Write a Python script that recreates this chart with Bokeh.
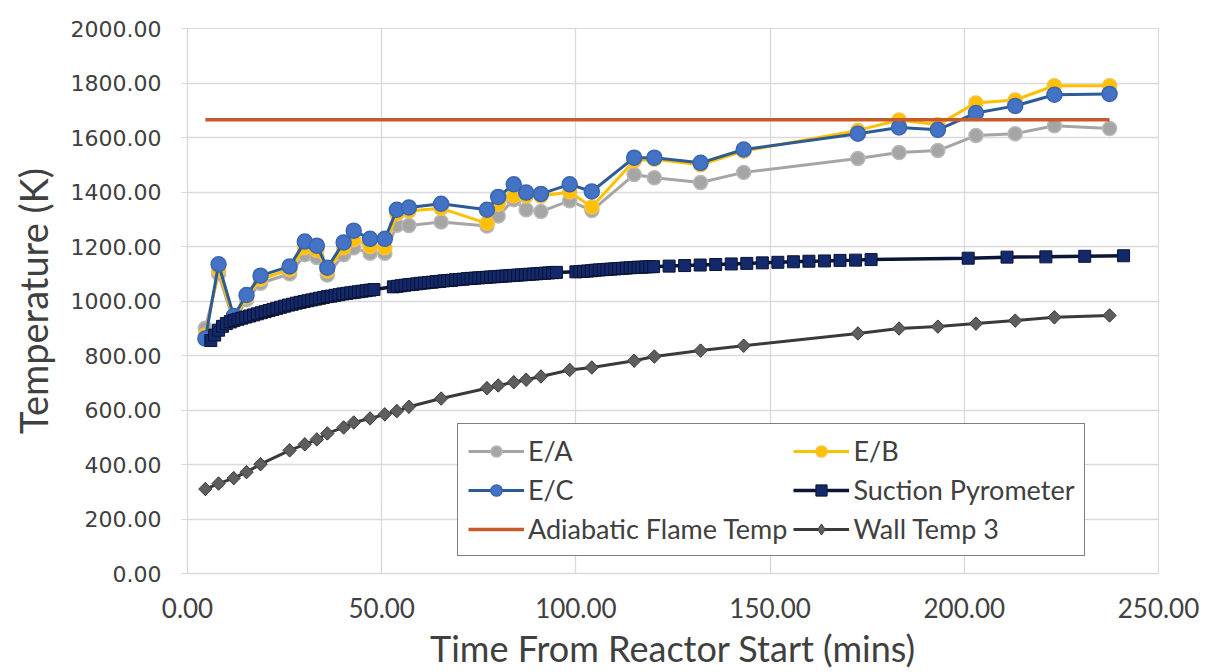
import math
from bokeh.plotting import figure
from bokeh.models import Legend, LegendItem, PrintfTickFormatter, FixedTicker, Range1d
from bokeh.embed import file_html
from bokeh.resources import INLINE

# ---- data ----
probe_t = [4.6, 8.0, 11.9, 15.2, 18.8, 26.3, 30.2, 33.3, 36.0, 40.2, 42.8, 47.0, 50.8,
           53.9, 57.0, 65.3, 77.1, 80.0, 84.0, 87.2, 91.0, 98.4, 104.1, 115.0, 120.2,
           132.1, 143.2, 172.6, 183.2, 193.2, 203.0, 213.1, 223.2, 237.4]
ea = [900, 1100, 925, 1005, 1065, 1100, 1170, 1160, 1095, 1170, 1195, 1175, 1175,
      1278, 1277, 1290, 1275, 1312, 1372, 1335, 1328, 1368, 1332, 1464, 1452,
      1435, 1472, 1523, 1545, 1552, 1607, 1614, 1643, 1633]
eb = [875, 1115, 935, 1015, 1080, 1115, 1195, 1185, 1110, 1195, 1225, 1200, 1195,
      1320, 1330, 1340, 1285, 1355, 1385, 1385, 1385, 1400, 1345, 1515, 1520,
      1500, 1550, 1626, 1664, 1647, 1727, 1738, 1790, 1790]
ec = [862, 1135, 945, 1022, 1093, 1127, 1218, 1203, 1122, 1215, 1258, 1228, 1228,
      1335, 1343, 1357, 1335, 1382, 1428, 1398, 1393, 1428, 1402, 1526, 1526,
      1507, 1556, 1614, 1637, 1628, 1690, 1716, 1757, 1760]
wall = [310, 330, 350, 372, 401, 452, 474, 492, 514, 536, 554, 569, 584,
        596, 612, 642, 680, 690, 702, 711, 723, 747, 756, 781, 796,
        818, 836, 881, 899, 906, 917, 928, 940, 947]

suction_t = [6, 7, 8, 9, 10, 11, 12, 13, 14, 15, 16, 17, 18, 19, 20, 21, 22, 23, 24, 25,
             26, 27, 28, 29, 30, 31, 32, 33, 34, 35, 36, 37, 38, 39, 40, 41, 42, 43, 44,
             45, 46, 47, 48,
             53, 54, 55, 56, 57, 58, 59, 60, 61, 62, 63, 64, 65, 66, 67, 68, 69, 70, 71,
             72, 73, 74, 75, 76, 77, 78, 79, 80, 81, 82, 83, 84, 85, 86, 87, 88, 89, 90,
             91, 92, 93, 94, 95,
             100, 101, 102, 103, 104, 105, 106, 107, 108, 109, 110, 111, 112, 113, 114,
             115, 116, 117, 118, 119, 120,
             124, 128, 132, 136, 140, 144, 148, 152, 156, 160, 164, 168, 172, 176,
             201, 211, 221, 231, 241]
suction = [855, 875, 893, 907, 917, 924, 929, 933, 937, 941, 945, 949, 953, 957, 961, 965,
           969, 973, 977, 981, 985, 988, 992, 995, 998, 1001, 1004, 1007, 1010, 1013, 1016,
           1018, 1021, 1023, 1026, 1028, 1030, 1032, 1034, 1036, 1038, 1040, 1042,
           1052, 1054, 1056, 1058, 1060, 1061, 1063, 1065, 1066, 1068, 1069, 1071, 1072,
           1074, 1075, 1076, 1078, 1079, 1080, 1082, 1083, 1084, 1085, 1086, 1087, 1088,
           1089, 1090, 1091, 1092, 1093, 1094, 1095, 1096, 1097, 1098, 1099, 1100, 1101,
           1102, 1103, 1104, 1105,
           1107, 1108, 1109, 1110, 1111, 1113, 1114, 1115, 1116, 1117, 1118, 1119, 1120,
           1121, 1122, 1123, 1124, 1124, 1125, 1126, 1126,
           1128, 1130, 1132, 1134, 1136, 1138, 1140, 1142, 1144, 1146, 1147, 1149, 1150,
           1152,
           1157, 1161, 1162, 1164, 1166]

flame_t = [4.6, 237.4]
flame = [1665, 1665]

x_ticks = [0, 50, 100, 150, 200, 250]
y_ticks = [0, 200, 400, 600, 800, 1000, 1200, 1400, 1600, 1800, 2000]

# ---- figure ----
p = figure(width=1200, height=672, output_backend="svg", toolbar_location=None,
           x_range=Range1d(0, 250), y_range=Range1d(0, 2000),
           min_border_left=187, min_border_right=42, min_border_top=28,
           min_border_bottom=99, background_fill_color="white",
           border_fill_color="white")
p.outline_line_color = "#D9D9D9"

GRID = "#D9D9D9"
TXT = "#404040"

p.xaxis.ticker = FixedTicker(ticks=x_ticks)
p.yaxis.ticker = FixedTicker(ticks=y_ticks)
p.xaxis.formatter = PrintfTickFormatter(format="%.2f")
p.yaxis.formatter = PrintfTickFormatter(format="%.2f")
p.xgrid.grid_line_color = GRID
p.ygrid.grid_line_color = GRID
p.xgrid.grid_line_width = 1.3
p.ygrid.grid_line_width = 1.3

for ax in (p.xaxis, p.yaxis):
    ax.axis_line_color = GRID
    ax.axis_line_width = 1.3
    ax.minor_tick_line_color = None
    ax.major_tick_line_color = GRID
    ax.major_label_text_color = TXT
    ax.axis_label_text_color = TXT
    ax.axis_label_text_font_style = "normal"

p.xaxis.major_tick_out = 0
p.xaxis.major_tick_in = 0
p.yaxis.major_tick_out = 6
p.yaxis.major_tick_in = 0

p.xaxis.major_label_text_font = "Lato"
p.xaxis.major_label_text_font_size = "26px"
p.xaxis.major_label_standoff = 24
p.yaxis.major_label_text_font = "DejaVu Sans"
p.yaxis.major_label_text_font_size = "22px"
p.yaxis.major_label_standoff = 20

p.xaxis.axis_label = "Time From Reactor Start (mins)"
p.xaxis.axis_label_text_font = "Lato"
p.xaxis.axis_label_text_font_size = "36px"
p.xaxis.axis_label_standoff = 5
p.yaxis.axis_label = "Temperature (K)"
p.yaxis.axis_label_text_font = "Lato"
p.yaxis.axis_label_text_font_size = "38px"
p.yaxis.axis_label_standoff = 12

# ---- series ----
l_ea = p.line(probe_t, ea, line_color="#A5A5A5", line_width=3)
m_ea = p.scatter(probe_t, ea, marker="circle", size=14, fill_color="#A5A5A5",
                 line_color="#B8B8B8", line_width=1.5)
l_eb = p.line(probe_t, eb, line_color="#FFC000", line_width=3)
m_eb = p.scatter(probe_t, eb, marker="circle", size=14, fill_color="#FFC000",
                 line_color="#F5C242", line_width=1.5)
l_ec = p.line(probe_t, ec, line_color="#2D5B96", line_width=3)
m_ec = p.scatter(probe_t, ec, marker="circle", size=15, fill_color="#4472C4",
                 line_color="#3A66B0", line_width=1.5)
l_su = p.line(suction_t, suction, line_color="#0B1636", line_width=3.5)
m_su = p.scatter(suction_t, suction, marker="square", size=12, fill_color="#14296B",
                 line_color="#0A1433", line_width=1)
l_fl = p.line(flame_t, flame, line_color="#C55A2B", line_width=3.5)
l_wa = p.line(probe_t, wall, line_color="#3A3A3A", line_width=3)
# diamond glyph (covered by the rotated squares) so the legend shows a diamond
d_wa = p.scatter(probe_t, wall, marker="diamond", size=13, fill_color="#5E5E5E",
                 line_color="#404040", line_width=1)
m_wa = p.scatter(probe_t, wall, marker="square", size=9.5, angle=math.pi / 4,
                 fill_color="#5E5E5E", line_color="#404040", line_width=1)

items = [
    LegendItem(label="E/A", renderers=[l_ea, m_ea]),
    LegendItem(label="E/B", renderers=[l_eb, m_eb]),
    LegendItem(label="E/C", renderers=[l_ec, m_ec]),
    LegendItem(label="Suction Pyrometer", renderers=[l_su, m_su]),
    LegendItem(label="Adiabatic Flame Temp", renderers=[l_fl]),
    LegendItem(label="Wall Temp 3", renderers=[l_wa, d_wa]),
]
legend = Legend(items=items, location=(270, 17), orientation="horizontal", ncols=2,
                border_line_color="black", border_line_width=1.5,
                background_fill_color="white", background_fill_alpha=1.0,
                label_text_font="Lato", label_text_font_size="27px",
                label_text_color=TXT, glyph_width=56, glyph_height=28,
                label_height=28, label_standoff=4, spacing=6, padding=10, margin=0)
p.add_layout(legend)

open("out.html", "w").write(file_html(p, INLINE))
